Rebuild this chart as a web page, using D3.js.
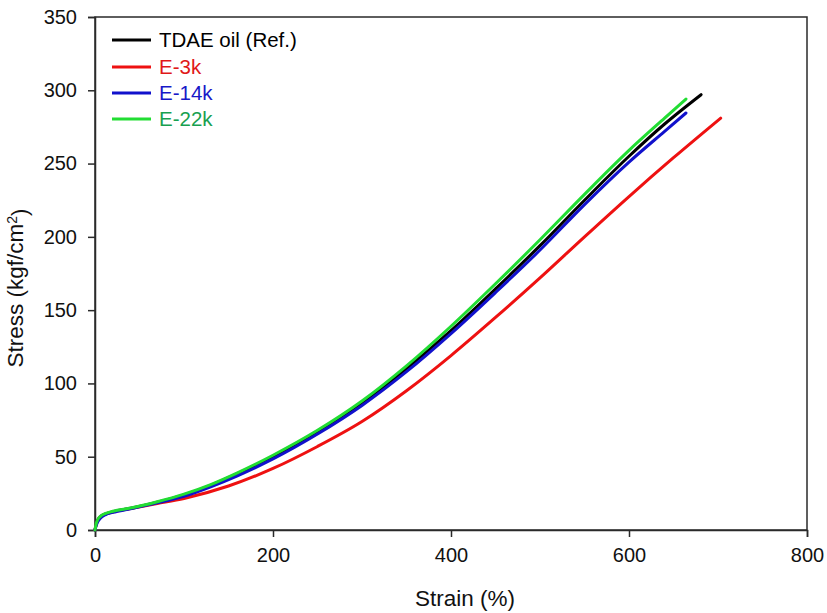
<!DOCTYPE html>
<html><head><meta charset="utf-8">
<script src="https://cdn.jsdelivr.net/npm/d3@7"></script>
<style>body{margin:0;background:#fff}svg{display:block}text{font-family:"Liberation Sans",Arial,sans-serif}</style>
</head><body>
<svg id="c" width="827" height="613"></svg>
<script>
const seriesNames = ["TDAE oil (Ref.)", "E-3k", "E-14k", "E-22k"];
const lineColors = ["#000000", "#ee1111", "#1111cc", "#22dd33"];
const textColors = ["#000000", "#e01818", "#1818c8", "#18a050"];
const xTicks = [0, 200, 400, 600, 800];
const yTicks = [0, 50, 100, 150, 200, 250, 300, 350];

const tdaeX = [0,1,3,6,12,20,40,70,100,130,160,200,250,300,350,400,450,500,550,600,640,681];
const tdaeY = [0,3,6.5,9,11,12.5,14.8,19,24,30.5,38.5,50,67,86.5,110,136,164.5,194,225,255,277,297];
const e3kX = [0,1,3,6,12,20,40,70,100,150,200,250,300,350,400,450,500,550,600,650,703];
const e3kY = [0,3,6.5,9,11,12.3,14.6,18,21.5,30,42,57,74,95,119,145,172,200,227.5,254,281];
const e14kX = [0,1,3,6,12,20,40,70,100,130,160,200,250,300,350,400,450,500,550,600,640,664];
const e14kY = [0,2.5,5.5,8,10.5,12,14.5,18.5,23,29.5,37,48.5,65.5,85,108,134,162,191,222,251,272,284.5];
const e22kX = [0,1,3,6,12,20,40,70,100,130,160,200,250,300,350,400,450,500,550,600,640,664];
const e22kY = [0,3.5,7,9.3,11.3,12.8,15,19.3,24.5,31,39,51,68,88,112,139,168,198,229,259,281,294];

const xs = [tdaeX, e3kX, e14kX, e22kX];
const ys = [tdaeY, e3kY, e14kY, e22kY];

const svg = d3.select("#c");
const x = d3.scaleLinear().domain([0, 800]).range([95, 807]);
const y = d3.scaleLinear().domain([0, 350]).range([530, 17]);

const frameColor = "#2a2a2a";
svg.append("rect").attr("x", 95).attr("y", 17).attr("width", 712).attr("height", 513)
  .attr("fill", "none").attr("stroke", frameColor).attr("stroke-width", 1.5);

const xAxis = svg.append("g").attr("transform", "translate(0,530)")
  .call(d3.axisBottom(x).tickValues(xTicks).tickSize(7).tickPadding(11).tickFormat(d3.format("d")));
const yAxis = svg.append("g").attr("transform", "translate(95,0)")
  .call(d3.axisLeft(y).tickValues(yTicks).tickSize(7).tickPadding(11).tickFormat(d3.format("d")));
[xAxis, yAxis].forEach(g => {
  g.select(".domain").attr("stroke", frameColor).attr("stroke-width", 1.5);
  g.selectAll(".tick line").attr("stroke", frameColor).attr("stroke-width", 1.5);
  g.selectAll(".tick text").attr("fill", "#111").style("font-size", "20px")
    .style("font-family", "'Liberation Sans', Arial, sans-serif");
});

const line = d3.line().curve(d3.curveMonotoneX);
[0, 1, 2, 3].forEach(i => {
  const pts = xs[i].map((v, k) => [x(v), y(ys[i][k])]);
  svg.append("path").attr("d", line(pts)).attr("fill", "none")
    .attr("stroke", lineColors[i]).attr("stroke-width", 3).attr("stroke-linecap", "round");
});

const legY = [40, 67, 93, 119];
seriesNames.forEach((n, i) => {
  svg.append("line").attr("x1", 112).attr("x2", 151).attr("y1", legY[i]).attr("y2", legY[i])
    .attr("stroke", lineColors[i]).attr("stroke-width", 3);
  svg.append("text").attr("x", 159).attr("y", legY[i]).attr("dy", "0.36em")
    .attr("fill", textColors[i]).style("font-size", "20.5px").text(n);
});

svg.append("text").attr("x", 465).attr("y", 606).attr("text-anchor", "middle")
  .attr("fill", "#111").style("font-size", "22.5px").text("Strain (%)");
const yt = svg.append("text").attr("transform", "translate(23,288) rotate(-90)")
  .attr("text-anchor", "middle").attr("fill", "#111").style("font-size", "22.5px");
yt.append("tspan").text("Stress (kgf/cm");
yt.append("tspan").attr("dy", "-0.45em").style("font-size", "14px").text("2");
yt.append("tspan").attr("dy", "0.45em").text(")");
</script>
</body></html>
